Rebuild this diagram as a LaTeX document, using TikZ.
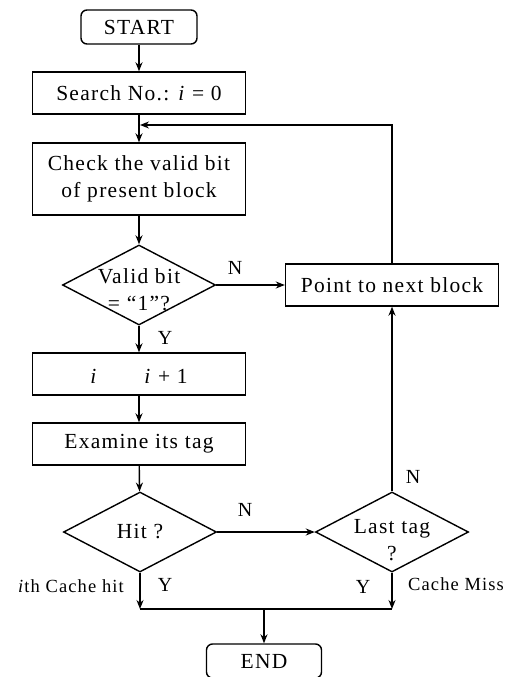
\documentclass[tikz,border=0pt]{standalone}
\usepackage{fontspec}
\setmainfont{Liberation Serif}[LetterSpace=6]
\usetikzlibrary{arrows.meta,shapes.geometric}
\begin{document}
\begin{tikzpicture}[x=1pt,y=-1pt,
  every node/.style={font=\fontsize{21.5}{27}\selectfont},
  line/.style={line width=1.4pt},
  arr/.style={line, -{Stealth[length=9pt,width=7pt]}},
  procbox/.style={draw, line width=1.4pt, minimum width=213pt, minimum height=42pt, inner sep=0pt},
  term/.style={draw, line width=1.4pt, rounded corners=6pt, minimum width=116pt, minimum height=34pt, inner sep=0pt},
  decbox/.style={draw, line width=1.4pt, diamond, minimum width=153pt, minimum height=80pt, inner sep=0pt},
  lab/.style={font=\fontsize{20}{22}\selectfont, inner sep=0pt}
]
\useasboundingbox (0,0) rectangle (512,677);
\node[term] (start) at (139,27) {START};
\node[procbox] (search) at (139,93) {Search No.: \textit{i} = 0};
\node[procbox, minimum height=72pt, align=center] (check) at (139,179) {Check the valid bit\\of present block};
\node[decbox] (valid) at (139,285) {};
\node[align=center, inner sep=0pt] (validt) at (139,290) {Valid bit\\= “1”?};
\node[procbox, minimum width=213pt, minimum height=42pt] (point) at (392,285) {Point to next block};
\node[procbox] (inc) at (139,374) {};
\node[inner sep=0pt] (inci) at (94,376) {\textit{i}};
\node[inner sep=0pt] (incn) at (166,376) {\textit{i} + 1};
\node[procbox] (exam) at (139,444) {Examine its tag};
\node[decbox] (hit) at (140,532) {};
\node[inner sep=0pt] (hitt) at (140,532) {Hit ?};
\node[decbox] (last) at (392,532) {};
\node[align=center, inner sep=0pt] (lastt) at (392,540) {Last tag\\?};
\node[term, minimum width=115pt] (end) at (264,661) {END};
\coordinate (loopc) at (392,125);
\coordinate (loopend) at (140,125);
\coordinate (hj) at (140,609);
\coordinate (lj) at (392,609);
\coordinate (mj) at (264,609);
\draw[arr] (start) -- (search);
\draw[arr] (search) -- (check);
\draw[arr] (check) -- (valid);
\draw[arr] (valid) -- (point);
\draw[arr] (valid) -- (inc);
\draw[arr] (inc) -- (exam);
\draw[arr] (exam) -- (hit);
\draw[arr] (hit) -- (last);
\draw[arr] (last) -- (point);
\draw[arr] (point.north) -- (loopc) -- (loopend);
\draw[arr] (hit.south) -- (hj);
\draw[arr] (last.south) -- (lj);
\draw[line] (hj) -- (lj);
\draw[arr] (mj) -- (end);
\node[lab] (n1) at (235,268) {N};
\node[lab] (y1) at (165,338) {Y};
\node[lab] (n2) at (245,510) {N};
\node[lab] (n3) at (413,477) {N};
\node[lab] (y2) at (165,585) {Y};
\node[lab] (y3) at (363,587) {Y};
\node[lab, anchor=east, font=\fontsize{18.5}{20}\selectfont] (chit) at (124,586) {\textit{i}th Cache hit};
\node[lab, anchor=west, font=\fontsize{18.5}{20}\selectfont] (cmiss) at (408,584) {Cache Miss};
\end{tikzpicture}
\end{document}
